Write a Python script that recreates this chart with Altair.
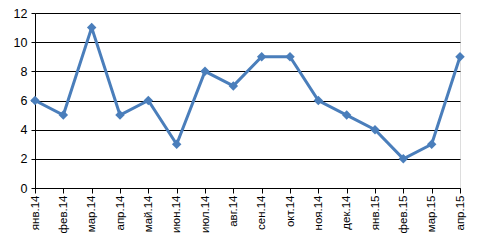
import altair as alt
import pandas as pd

months = ["янв.14", "фев.14", "мар.14", "апр.14", "май.14", "июн.14", "июл.14", "авг.14",
          "сен.14", "окт.14", "ноя.14", "дек.14", "янв.15", "фев.15", "мар.15", "апр.15"]
values = [6, 5, 11, 5, 6, 3, 8, 7, 9, 9, 6, 5, 4, 2, 3, 9]
y_ticks = [0, 2, 4, 6, 8, 10, 12]

df = pd.DataFrame({"m": months, "v": values})

x = alt.X("m:N", sort=months, scale=alt.Scale(type="point", padding=0),
          axis=alt.Axis(title=None, labelAngle=-90, tickSize=5, tickColor="black",
                        domainColor="black", labelColor="black", labelFontSize=11.5,
                        labelFont="Liberation Sans", labelPadding=2, grid=False))
y = alt.Y("v:Q", scale=alt.Scale(domain=[0, 12], nice=False),
          axis=alt.Axis(title=None, values=y_ticks, tickSize=4, tickColor="black",
                        domainColor="black", labelColor="black", labelFontSize=12.5,
                        labelFont="Liberation Sans", labelPadding=4,
                        grid=True, gridColor="black", gridOpacity=1))

base = alt.Chart(df)
line = base.mark_line(color="#4A7EBB", strokeWidth=3).encode(x=x, y=y)
pts = base.mark_point(shape="diamond", filled=True, size=90, color="#4A7EBB", opacity=1).encode(x=x, y=y)

chart = (line + pts).properties(
    width=425, height=175,
    autosize=alt.AutoSizeParams(type="none"),
    padding={"left": 27, "top": 5, "right": 13, "bottom": 45},
).configure_view(stroke="black", strokeWidth=1).configure(background="white")

chart.save("out.html", embed_options={"renderer": "svg", "actions": False})
